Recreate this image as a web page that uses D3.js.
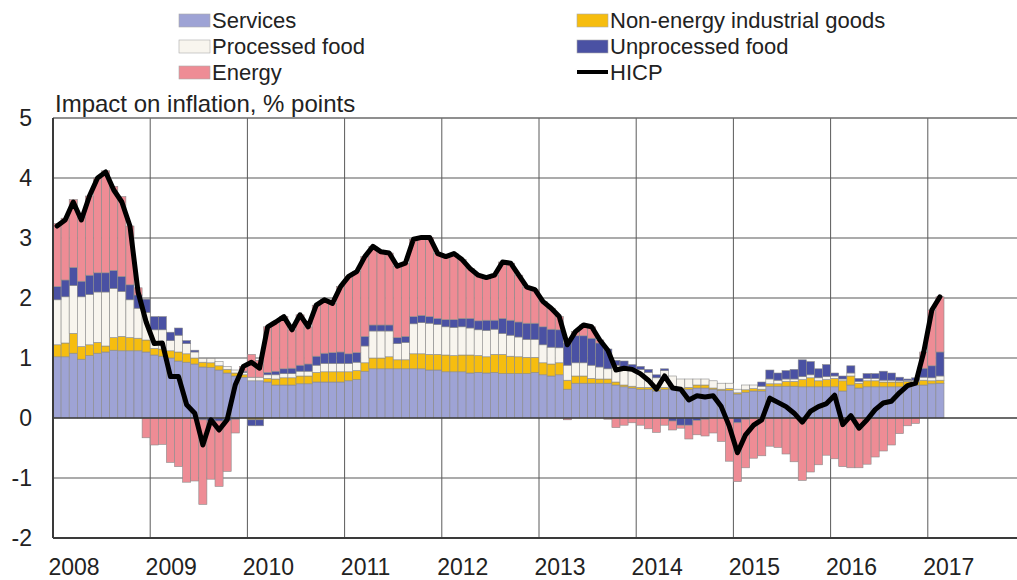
<!DOCTYPE html>
<html>
<head>
<meta charset="utf-8">
<script src="https://cdn.jsdelivr.net/npm/d3@7"></script>
<style>
  body { margin: 0; background: #fff; }
  svg { display: block; font-family: Arial, "Liberation Sans", sans-serif; }
</style>
</head>
<body>
<svg id="chart" width="1017" height="580"></svg>
<script>
// monthly contributions, Jan 2008 .. Feb 2017 (% points)
const startYear = 2008;

const services = [
  1.02, 1.02, 1.08, 0.98, 1.04, 1.08, 1.10, 1.13, 1.12, 1.12, 1.12, 1.10,
  1.05, 1.03, 1.00, 0.95, 0.93, 0.90, 0.85, 0.84, 0.80, 0.75, 0.70, 0.68,
  0.62, 0.62, 0.60, 0.55, 0.55, 0.55, 0.57, 0.57, 0.60, 0.60, 0.60, 0.60,
  0.62, 0.64, 0.78, 0.82, 0.82, 0.82, 0.82, 0.82, 0.82, 0.82, 0.80, 0.80,
  0.77, 0.77, 0.77, 0.75, 0.76, 0.75, 0.76, 0.74, 0.74, 0.74, 0.74, 0.76,
  0.72, 0.70, 0.72, 0.48, 0.58, 0.58, 0.58, 0.58, 0.58, 0.55, 0.52, 0.50,
  0.48, 0.48, 0.45, 0.48, 0.48, 0.48, 0.48, 0.50, 0.50, 0.48, 0.46, 0.46,
  0.40, 0.43, 0.45, 0.45, 0.53, 0.53, 0.53, 0.53, 0.52, 0.52, 0.52, 0.52,
  0.52, 0.45, 0.55, 0.50, 0.52, 0.52, 0.52, 0.52, 0.52, 0.55, 0.55, 0.55,
  0.57, 0.58
];
const neig = [
  0.20, 0.23, 0.33, 0.21, 0.18, 0.18, 0.10, 0.21, 0.24, 0.22, 0.21, 0.20,
  0.11, 0.12, 0.12, 0.15, 0.14, 0.10, 0.08, 0.08, 0.07, 0.06, 0.05, 0.04,
  -0.03, -0.03, 0.06, 0.10, 0.12, 0.12, 0.13, 0.13, 0.16, 0.17, 0.17, 0.17,
  0.15, 0.15, 0.14, 0.18, 0.18, 0.20, 0.15, 0.15, 0.25, 0.25, 0.26, 0.26,
  0.28, 0.27, 0.28, 0.30, 0.28, 0.27, 0.30, 0.32, 0.29, 0.28, 0.27, 0.25,
  0.20, 0.20, 0.20, 0.15, 0.12, 0.12, 0.08, 0.07, 0.07, 0.05, 0.03, 0.03,
  0.03, 0.03, 0.02, 0.03, 0.02, 0.02, 0.03, 0.05, 0.05, 0.02, 0.02, 0.03,
  0.02, 0.04, 0.04, 0.03, 0.04, 0.04, 0.08, 0.08, 0.12, 0.15, 0.10, 0.12,
  0.14, 0.17, 0.15, 0.08, 0.10, 0.10, 0.08, 0.08, 0.08, 0.06, 0.06, 0.08,
  0.05, 0.05
];
const processedFood = [
  0.75, 0.77, 0.80, 0.83, 0.84, 0.84, 0.90, 0.82, 0.75, 0.63, 0.50, 0.46,
  0.31, 0.32, 0.17, 0.28, 0.17, 0.10, 0.06, 0.07, 0.07, 0.05, 0.05, 0.04,
  0.06, 0.06, 0.06, 0.07, 0.07, 0.07, 0.08, 0.08, 0.12, 0.14, 0.14, 0.14,
  0.14, 0.14, 0.28, 0.45, 0.45, 0.43, 0.27, 0.29, 0.50, 0.52, 0.52, 0.50,
  0.47, 0.47, 0.47, 0.45, 0.43, 0.44, 0.42, 0.35, 0.35, 0.33, 0.30, 0.30,
  0.30, 0.28, 0.25, 0.25, 0.22, 0.22, 0.22, 0.20, 0.17, 0.28, 0.30, 0.28,
  0.30, 0.25, 0.20, 0.28, 0.20, 0.15, 0.14, 0.10, 0.10, 0.12, 0.10, 0.09,
  0.06, 0.08, 0.06, 0.05, 0.08, 0.06, 0.04, 0.04, 0.05, 0.05, 0.05, 0.05,
  0.04, 0.03, 0.05, 0.03, 0.04, 0.04, 0.03, 0.03, 0.02, 0.02, 0.02, 0.05,
  0.05, 0.07
];
const unprocessedFood = [
  0.22, 0.28, 0.30, 0.26, 0.32, 0.32, 0.32, 0.30, 0.25, 0.25, 0.22, 0.22,
  0.22, 0.22, 0.14, 0.12, 0.05, 0.03, -0.03, -0.05, -0.05, -0.04, -0.02, 0.02,
  -0.10, -0.10, 0.04, 0.06, 0.08, 0.09, 0.10, 0.12, 0.15, 0.17, 0.18, 0.19,
  0.16, 0.16, 0.16, 0.10, 0.10, 0.10, 0.10, 0.10, 0.12, 0.12, 0.11, 0.10,
  0.12, 0.13, 0.14, 0.16, 0.15, 0.17, 0.15, 0.25, 0.25, 0.25, 0.27, 0.27,
  0.30, 0.30, 0.30, 0.37, 0.45, 0.45, 0.45, 0.40, 0.33, 0.08, 0.10, 0.08,
  0.05, 0.05, 0.05, 0.03, -0.05, -0.12, -0.12, -0.04, -0.02, 0.00, 0.00, 0.00,
  -0.08, -0.02, 0.00, 0.07, 0.15, 0.12, 0.14, 0.16, 0.28, 0.22, 0.15, 0.20,
  0.05, 0.05, 0.12, 0.05, 0.08, 0.08, 0.15, 0.12, 0.06, 0.02, 0.04, 0.15,
  0.20, 0.40
];
const energy = [
  1.05, 1.03, 1.13, 1.07, 1.32, 1.58, 1.70, 1.40, 1.33, 0.98, 0.12, -0.33,
  -0.45, -0.44, -0.74, -0.81, -1.07, -1.05, -1.41, -0.97, -1.09, -0.85, -0.23, 0.08,
  0.38, 0.28, 0.76, 0.82, 0.87, 0.64, 0.84, 0.62, 0.85, 0.89, 0.82, 1.09,
  1.29, 1.35, 1.33, 1.31, 1.22, 1.20, 1.19, 1.22, 1.29, 1.30, 1.32, 1.08,
  1.05, 1.10, 0.98, 0.83, 0.76, 0.71, 0.75, 0.94, 0.95, 0.78, 0.60, 0.56,
  0.42, 0.35, 0.22, -0.03, 0.07, 0.18, 0.19, 0.05, -0.02, -0.16, -0.12, -0.08,
  -0.12, -0.18, -0.24, -0.12, -0.15, -0.05, -0.23, -0.24, -0.28, -0.25, -0.39, -0.72,
  -0.98, -0.81, -0.67, -0.63, -0.47, -0.49, -0.60, -0.73, -1.04, -0.90, -0.78, -0.62,
  -0.68, -0.81, -0.83, -0.83, -0.77, -0.65, -0.55, -0.45, -0.26, -0.13, -0.09, 0.27,
  0.93, 0.92
];
const hicp = [
  3.2, 3.3, 3.6, 3.3, 3.7, 4.0, 4.1, 3.8, 3.6, 3.2, 2.1, 1.6,
  1.24, 1.25, 0.69, 0.69, 0.22, 0.08, -0.45, -0.03, -0.2, -0.03, 0.55, 0.86,
  0.93, 0.83, 1.52, 1.6, 1.69, 1.47, 1.72, 1.52, 1.88, 1.97, 1.91, 2.19,
  2.36, 2.44, 2.69, 2.86, 2.77, 2.75, 2.53, 2.58, 2.98, 3.01, 3.01, 2.74,
  2.69, 2.74, 2.64, 2.49, 2.38, 2.34, 2.38, 2.6, 2.58, 2.38, 2.18, 2.14,
  1.94, 1.83, 1.69, 1.22, 1.44, 1.55, 1.52, 1.3, 1.13, 0.8, 0.83, 0.81,
  0.74, 0.63, 0.48, 0.7, 0.5, 0.48, 0.3, 0.37, 0.35, 0.37, 0.19, -0.14,
  -0.58, -0.28, -0.12, -0.03, 0.33, 0.26, 0.19, 0.08, -0.07, 0.11, 0.19, 0.24,
  0.38, -0.11, 0.04, -0.17, -0.03, 0.14, 0.25, 0.28, 0.42, 0.54, 0.58, 1.1,
  1.8, 2.02
];

const yearTicks = [2008, 2009, 2010, 2011, 2012, 2013, 2014, 2015, 2016, 2017];
const yTicks = [-2, -1, 0, 1, 2, 3, 4, 5];

const seriesKeys = ["services", "neig", "processed", "unprocessed", "energy"];
const seriesNames = {
  services: "Services",
  neig: "Non-energy industrial goods",
  processed: "Processed food",
  unprocessed: "Unprocessed food",
  energy: "Energy"
};
const colors = {
  services: "#9ea3d5",
  neig: "#f6bd0f",
  processed: "#f8f5ee",
  unprocessed: "#4a51a3",
  energy: "#ee8c95"
};

const rows = services.map((v, i) => ({
  i: i,
  services: v,
  neig: neig[i],
  processed: processedFood[i],
  unprocessed: unprocessedFood[i],
  energy: energy[i]
}));

const svg = d3.select("#chart");
const plotLeft = 53, plotTop = 118, plotBottom = 538;

// month index scale; 10 years, right end runs past the picture edge
const x = d3.scaleLinear().domain([0, 120]).range([plotLeft, plotLeft + 972]);
const y = d3.scaleLinear().domain([-2, 5]).range([plotBottom, plotTop]);

// grid
svg.append("g")
    .selectAll("line")
    .data(yTicks.filter(d => d !== 0 && d !== -2 && d !== 5))
    .enter().append("line")
    .attr("x1", plotLeft).attr("x2", 1017)
    .attr("y1", d => y(d)).attr("y2", d => y(d))
    .attr("stroke", "#8f8f8f").attr("stroke-width", 1.4);

svg.append("g")
    .selectAll("line")
    .data(yearTicks.slice(1))
    .enter().append("line")
    .attr("x1", d => x((d - startYear) * 12)).attr("x2", d => x((d - startYear) * 12))
    .attr("y1", plotTop).attr("y2", plotBottom)
    .attr("stroke", "#5a5a5a").attr("stroke-width", 1);

// stacked bars
const stacked = d3.stack()
    .keys(seriesKeys)
    .offset(d3.stackOffsetDiverging)(rows);

svg.append("g")
    .selectAll("g")
    .data(stacked)
    .enter().append("g")
    .attr("fill", d => colors[d.key])
    .selectAll("rect")
    .data(d => d)
    .enter().append("rect")
    .attr("x", d => x(d.data.i))
    .attr("width", x(1) - x(0))
    .attr("y", d => y(Math.max(d[0], d[1])))
    .attr("height", d => Math.abs(y(d[0]) - y(d[1])))
    .attr("stroke", "#8a8a8a")
    .attr("stroke-width", 0.6);

// frame
svg.append("line")
    .attr("x1", plotLeft).attr("x2", 1017).attr("y1", plotTop).attr("y2", plotTop)
    .attr("stroke", "#6a6a6a").attr("stroke-width", 1.6);
svg.append("line")
    .attr("x1", plotLeft).attr("x2", 1017).attr("y1", y(0)).attr("y2", y(0))
    .attr("stroke", "#3a3a3a").attr("stroke-width", 1.5);
svg.append("line")
    .attr("x1", plotLeft).attr("x2", 1017).attr("y1", plotBottom).attr("y2", plotBottom)
    .attr("stroke", "#3a3a3a").attr("stroke-width", 2);
svg.append("line")
    .attr("x1", plotLeft).attr("x2", plotLeft).attr("y1", plotTop).attr("y2", plotBottom)
    .attr("stroke", "#3a3a3a").attr("stroke-width", 2);

// HICP line
const line = d3.line()
    .x((d, i) => x(i + 0.5))
    .y(d => y(d));

svg.append("path")
    .datum(hicp)
    .attr("d", line)
    .attr("fill", "none")
    .attr("stroke", "#000")
    .attr("stroke-width", 5)
    .attr("stroke-linejoin", "round")
    .attr("stroke-linecap", "round");

// axes labels
svg.append("g")
    .selectAll("text")
    .data(yTicks)
    .enter().append("text")
    .attr("x", 32)
    .attr("y", d => y(d))
    .attr("dy", "0.36em")
    .attr("text-anchor", "end")
    .attr("font-size", 23)
    .attr("fill", "#222")
    .text(d => d);

svg.append("g")
    .selectAll("text")
    .data(yearTicks)
    .enter().append("text")
    .attr("x", d => x((d - startYear) * 12) + 21)
    .attr("y", 575)
    .attr("text-anchor", "middle")
    .attr("font-size", 23)
    .attr("fill", "#222")
    .text(d => d);

svg.append("text")
    .attr("x", 55)
    .attr("y", 112)
    .attr("font-size", 24)
    .attr("fill", "#222")
    .text("Impact on inflation, % points");

// legend
const legendItems = [
  { key: "services", col: 0, row: 0 },
  { key: "processed", col: 0, row: 1 },
  { key: "energy", col: 0, row: 2 },
  { key: "neig", col: 1, row: 0 },
  { key: "unprocessed", col: 1, row: 1 },
  { key: "hicp", col: 1, row: 2 }
];
const legendX = [179, 577];

const legend = svg.append("g")
    .selectAll("g")
    .data(legendItems)
    .enter().append("g")
    .attr("transform", d => `translate(${legendX[d.col]},${20 + d.row * 26})`);

legend.filter(d => d.key !== "hicp")
    .append("rect")
    .attr("x", 0).attr("y", -6)
    .attr("width", 31).attr("height", 13)
    .attr("fill", d => colors[d.key])
    .attr("stroke", "#aaa")
    .attr("stroke-width", 0.6);

legend.filter(d => d.key === "hicp")
    .append("line")
    .attr("x1", 0).attr("x2", 31)
    .attr("stroke", "#000").attr("stroke-width", 4);

legend.append("text")
    .attr("x", 33)
    .attr("dy", "0.36em")
    .attr("font-size", 22)
    .attr("fill", "#222")
    .text(d => d.key === "hicp" ? "HICP" : seriesNames[d.key]);
</script>
</body>
</html>
